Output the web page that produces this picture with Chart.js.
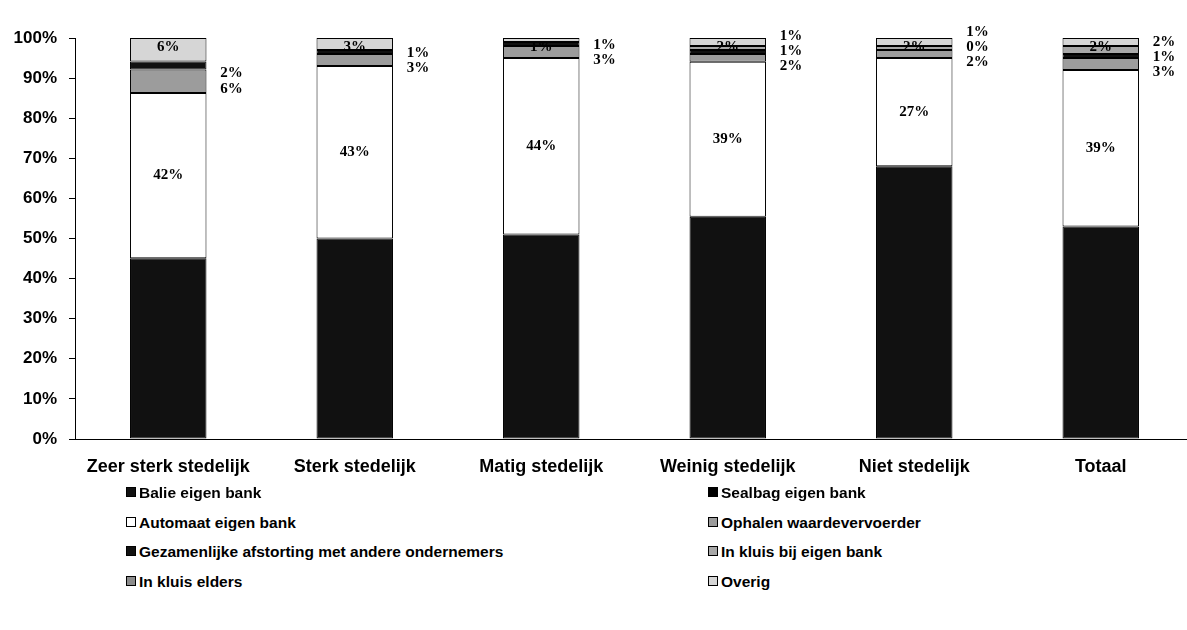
<!DOCTYPE html>
<html>
<head>
<meta charset="utf-8">
<script src="https://cdn.jsdelivr.net/npm/chart.js@4.4.1/dist/chart.umd.min.js"></script>
<style>
  html, body { margin: 0; padding: 0; background: #fff; overflow: hidden; }
  #wrap { position: relative; width: 1187px; height: 630px; overflow: hidden; background: #fff; }
  #c { position: absolute; left: 0; top: 0; }
  #legend { position: absolute; left: 0; top: 483px; width: 1187px; font: bold 15.5px "Liberation Sans", Arial, sans-serif; color: #000; }
  .item { position: absolute; white-space: nowrap; line-height: 20px; }
  .sw { display: inline-block; width: 8px; height: 8px; border: 1px solid #000; margin-right: 3px; vertical-align: 1px; }
</style>
</head>
<body>
<div id="wrap">
  <canvas id="c" width="1196" height="485" style="width:1196px;height:485px"></canvas>
  <div id="legend"></div>
</div>
<script>
// ---- data (percentages) ----
const categories = ['Zeer sterk stedelijk', 'Sterk stedelijk', 'Matig stedelijk', 'Weinig stedelijk', 'Niet stedelijk', 'Totaal'];
const seriesNames = ['Balie eigen bank', 'Sealbag eigen bank', 'Automaat eigen bank', 'Ophalen waardevervoerder',
  'Gezamenlijke afstorting met andere ondernemers', 'In kluis bij eigen bank', 'In kluis elders', 'Overig'];
const balieEigenBank       = [46, 50, 51, 56, 68, 53];
const sealbagEigenBank     = [0, 0, 0, 0, 0, 0];
const automaatEigenBank    = [42, 43, 44, 39, 27, 39];
const ophalenWaardevervoer = [6, 3, 3, 2, 2, 3];
const gezamenlijk          = [2, 1, 1, 1, 0, 1];
const kluisEigenBank       = [null, null, null, 1, 1, 2];
const kluisElders          = [null, null, null, null, null, null];
const overig               = [6, 3, 1, 2, 2, 2];
const yTicks = [0, 10, 20, 30, 40, 50, 60, 70, 80, 90, 100];

const seriesValues = [balieEigenBank, sealbagEigenBank, automaatEigenBank, ophalenWaardevervoer,
  gezamenlijk, kluisEigenBank, kluisElders, overig];
const seriesColors = ['#111111', '#000000', '#ffffff', '#9c9c9c', '#111111', '#a8a8a8', '#8c8c8c', '#d6d6d6'];

// 100% stacked: normalise each column like a 100%-stacked column chart
const totals = categories.map((_, i) => seriesValues.reduce((s, arr) => s + (arr[i] || 0), 0));
const datasets = seriesValues.map((arr, k) => ({
  label: seriesNames[k],
  data: arr.map((v, i) => v == null ? null : v / totals[i] * 100),
  backgroundColor: seriesColors[k],
  borderColor: '#000',
  borderWidth: 1,
  borderSkipped: false,
  barPercentage: 0.41,
  categoryPercentage: 1.0
}));

const labelPlugin = {
  id: 'segLabels',
  afterDatasetsDraw(chart) {
    const ctx = chart.ctx;
    ctx.save();
    ctx.font = 'bold 15px "Liberation Serif", "Times New Roman", serif';
    ctx.fillStyle = '#000';
    ctx.textBaseline = 'middle';
    categories.forEach((c, i) => {
      const big = chart.getDatasetMeta(2).data[i];
      ctx.textAlign = 'center';
      ctx.fillText(automaatEigenBank[i] + '%', big.x, (big.y + big.base) / 2);
      const small = [];
      for (let k = 3; k < seriesValues.length; k++) {
        const v = seriesValues[k][i];
        if (v == null) continue;
        const el = chart.getDatasetMeta(k).data[i];
        small.push({ v, el, cy: (el.y + el.base) / 2 });
      }
      if (!small.length) return;
      const top = small.pop();
      ctx.textAlign = 'center';
      ctx.fillText(top.v + '%', top.el.x, top.el.y + 9);
      let prev = Infinity;
      small.forEach(s => {
        const y = Math.min(s.cy + 8, prev - 15);
        prev = y;
        ctx.fillText(s.v + '%', s.el.x + s.el.width / 2 + 25, y);
      });
    });
    ctx.restore();
  }
};

const chart = new Chart(document.getElementById('c'), {
  type: 'bar',
  data: { labels: categories, datasets },
  options: {
    responsive: false,
    animation: false,
    layout: { padding: { top: 38, right: 2, left: 0, bottom: 0 } },
    plugins: { legend: { display: false }, tooltip: { enabled: false } },
    scales: {
      x: {
        stacked: true,
        grid: { display: false, drawTicks: false },
        border: { display: true, color: '#000', width: 1 },
        ticks: { color: '#000', padding: 17, font: { family: '"Liberation Sans", Arial, sans-serif', size: 18, weight: 'bold' } },
        afterFit: s => { s.height = 46; }
      },
      y: {
        stacked: true,
        min: 0, max: 100,
        afterBuildTicks: s => { s.ticks = yTicks.map(v => ({ value: v })); },
        grid: { drawOnChartArea: false, drawTicks: true, tickLength: 6, color: '#000' },
        border: { display: true, color: '#000', width: 1 },
        ticks: { color: '#000', padding: 12, callback: v => v + '%', font: { family: '"Liberation Sans", Arial, sans-serif', size: 17, weight: 'bold' } },
        afterFit: s => { s.width = 75; }
      }
    }
  },
  plugins: [labelPlugin]
});

// legend in two columns, built from the chart's datasets
const legend = document.getElementById('legend');
chart.data.datasets.forEach((ds, k) => {
  const d = document.createElement('div');
  d.className = 'item';
  d.style.left = (k % 2 === 0 ? 126 : 708) + 'px';
  d.style.top = (Math.floor(k / 2) * 29.5) + 'px';
  d.innerHTML = '<span class="sw" style="background:' + ds.backgroundColor + '"></span>';
  d.appendChild(document.createTextNode(ds.label));
  legend.appendChild(d);
});
</script>
</body>
</html>
